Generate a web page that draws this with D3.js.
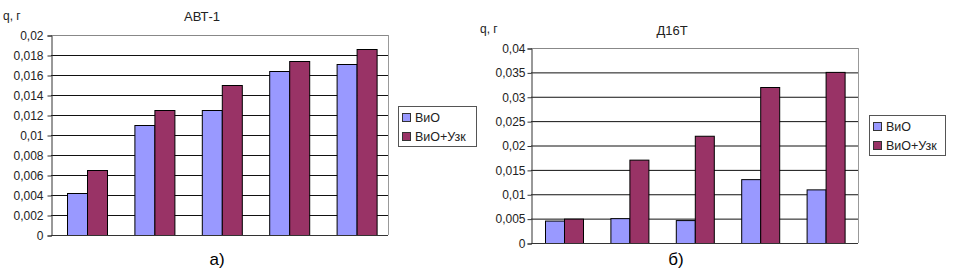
<!DOCTYPE html>
<html>
<head>
<meta charset="utf-8">
<script src="https://cdn.jsdelivr.net/npm/d3@7"></script>
<style>
  body { margin: 0; background: #fff; }
  svg { display: block; font-family: "Liberation Sans", Arial, sans-serif; }
</style>
</head>
<body>
<svg id="chart" width="956" height="268"></svg>
<script>
// Data
const seriesNames = ["ВиО", "ВиО+Узк"];
const seriesColors = ["#9999ff", "#993366"];
const categories = ["1", "2", "3", "4", "5"];

const avtVio = [0.0042, 0.011, 0.0125, 0.0164, 0.0171];
const avtVioUzk = [0.0065, 0.0125, 0.015, 0.0174, 0.0186];
const avtTicks = [0, 0.002, 0.004, 0.006, 0.008, 0.01, 0.012, 0.014, 0.016, 0.018, 0.02];

const d16Vio = [0.0046, 0.0051, 0.0047, 0.0131, 0.011];
const d16VioUzk = [0.005, 0.0171, 0.022, 0.032, 0.0351];
const d16Ticks = [0, 0.005, 0.01, 0.015, 0.02, 0.025, 0.03, 0.035, 0.04];

const svg = d3.select("#chart");
const fmt = v => String(v).replace(".", ",");

function drawChart(cfg) {
    const g = svg.append("g");

    const x = d3.scaleBand().domain(categories).range([cfg.left, cfg.right]);
    const y = d3.scaleLinear().domain([0, cfg.max]).range([cfg.bottom, cfg.top]);
    const inner = d3.scaleBand().domain(seriesNames).range([0, x.bandwidth()]).paddingInner(0).paddingOuter(0.72);

    // Gridlines
    g.append("g")
        .selectAll("line")
        .data(cfg.ticks.filter(t => t > 0))
        .enter().append("line")
        .attr("x1", cfg.left).attr("x2", cfg.right)
        .attr("y1", d => y(d) + 0.5).attr("y2", d => y(d) + 0.5)
        .attr("stroke", (d, i) => i === cfg.ticks.length - 2 ? "#888" : "#111")
        .attr("stroke-width", 1);

    // Plot area right border
    g.append("line")
        .attr("x1", cfg.right + 0.5).attr("x2", cfg.right + 0.5)
        .attr("y1", cfg.top).attr("y2", cfg.bottom)
        .attr("stroke", "#999");

    // Bars
    const rows = categories.map((c, i) => ({ cat: c, values: [cfg.a[i], cfg.b[i]] }));
    const groups = g.selectAll(".grp")
        .data(rows)
        .enter().append("g")
        .attr("transform", d => `translate(${x(d.cat) + cfg.shift},0)`);

    groups.selectAll("rect")
        .data(d => d.values.map((v, k) => ({ key: seriesNames[k], value: v, color: seriesColors[k] })))
        .enter().append("rect")
        .attr("x", d => Math.round(inner(d.key)) + 0.5)
        .attr("y", d => y(d.value) + 0.5)
        .attr("width", Math.round(inner.bandwidth()))
        .attr("height", d => y(0) - y(d.value))
        .attr("fill", d => d.color)
        .attr("stroke", "#000")
        .attr("stroke-width", 1);

    // Y axis
    const yAxis = g.append("g")
        .attr("transform", `translate(${cfg.left + 0.5},0.5)`)
        .call(d3.axisLeft(y).tickValues(cfg.ticks).tickSize(4).tickPadding(cfg.pad).tickFormat(fmt));
    yAxis.select(".domain").attr("stroke", "#333");
    yAxis.selectAll(".tick line").attr("stroke", "#333");
    yAxis.selectAll("text")
        .attr("fill", "#222")
        .style("font-size", "12px");

    // X axis line
    g.append("line")
        .attr("x1", cfg.left).attr("x2", cfg.right)
        .attr("y1", cfg.bottom + 0.5).attr("y2", cfg.bottom + 0.5)
        .attr("stroke", "#333");

    // Titles
    g.append("text")
        .attr("x", cfg.qx).attr("y", cfg.qy)
        .style("font-size", "12px").attr("fill", "#222")
        .text("q, г");
    g.append("text")
        .attr("x", cfg.titleX).attr("y", cfg.titleY)
        .attr("text-anchor", "middle")
        .style("font-size", "13px").attr("fill", "#222")
        .text(cfg.title);
    g.append("text")
        .attr("x", cfg.labelX).attr("y", 265)
        .attr("text-anchor", "middle")
        .style("font-size", "17px").attr("fill", "#000")
        .text(cfg.label);

    // Legend
    const lg = g.append("g").attr("transform", `translate(${cfg.legX},${cfg.legY})`);
    lg.append("rect")
        .attr("x", 0.5).attr("y", 0.5)
        .attr("width", cfg.legW).attr("height", 40)
        .attr("fill", "#fff")
        .attr("stroke", "#555");
    seriesNames.forEach((name, i) => {
        lg.append("rect")
            .attr("x", 4.5).attr("y", 7.5 + i * 19)
            .attr("width", 8).attr("height", 8)
            .attr("fill", seriesColors[i])
            .attr("stroke", "#333");
        lg.append("text")
            .attr("x", 17).attr("y", 16 + i * 19)
            .style("font-size", "12.5px").attr("fill", "#222")
            .text(name);
    });
}

drawChart({
    title: "АВТ-1", label: "а)", a: avtVio, b: avtVioUzk, ticks: avtTicks, max: 0.02,
    left: 51, right: 388, top: 35, bottom: 235, pad: 4, shift: 2,
    qx: 3, qy: 20, titleX: 202, titleY: 21, labelX: 217,
    legX: 398, legY: 106, legW: 78
});

drawChart({
    title: "Д16Т", label: "б)", a: d16Vio, b: d16VioUzk, ticks: d16Ticks, max: 0.04,
    left: 531, right: 858, top: 48, bottom: 243, pad: 2, shift: 0,
    qx: 480, qy: 33, titleX: 672, titleY: 35, labelX: 676,
    legX: 869, legY: 115, legW: 76
});
</script>
</body>
</html>
